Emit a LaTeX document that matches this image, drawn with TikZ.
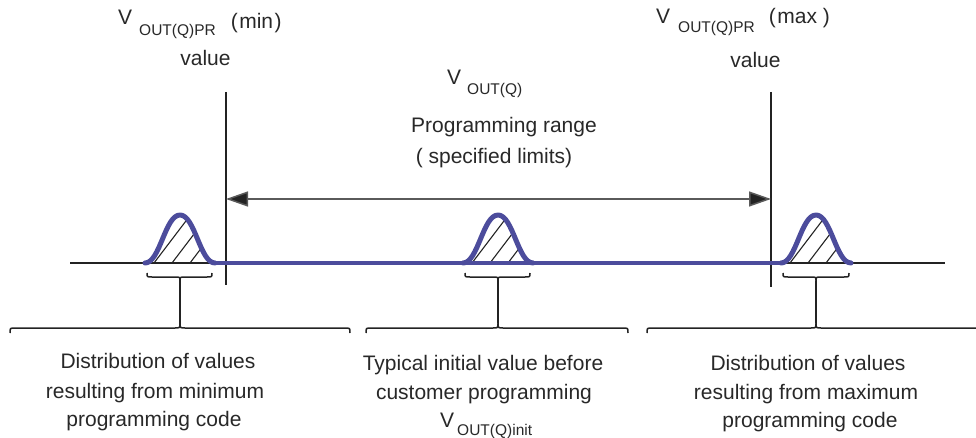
\documentclass[tikz,border=0pt]{standalone}
\usepackage{fontspec}
\setmainfont{Liberation Sans}
\usetikzlibrary{arrows.meta}
\definecolor{bluec}{RGB}{76,76,156}
\definecolor{txt}{RGB}{40,40,40}
\definecolor{lnc}{RGB}{35,35,35}
\definecolor{arrc}{RGB}{90,90,90}
\newcommand\mainsz{\fontsize{21}{24}\selectfont}
\newcommand\subsz{\fontsize{15.5}{18}\selectfont}
% small brace: x1, x2, tip x, line y (tip points down)
\newcommand\tipdownbrace[4]{%
  \draw[bracel] (#1,#4-4) .. controls (#1,#4) .. (#1+5,#4) -- (#3-5,#4)
    .. controls (#3,#4) .. (#3,#4+4) .. controls (#3,#4) .. (#3+5,#4)
    -- (#2-5,#4) .. controls (#2,#4) .. (#2,#4-4);}
% big brace: x1, x2, tip x, line y (tip points up)
\newcommand\tipupbrace[4]{%
  \draw[bracel] (#1,#4+5) .. controls (#1,#4) .. (#1+5,#4) -- (#3-5,#4)
    .. controls (#3,#4) .. (#3,#4-5) .. controls (#3,#4) .. (#3+5,#4)
    -- (#2-5,#4) .. controls (#2,#4) .. (#2,#4+5);}
\begin{document}
\begin{tikzpicture}[x=1pt,y=-1pt,
  lbl/.style={inner sep=0,anchor=base,text=txt,font=\mainsz},
  ruleline/.style={draw=lnc,line width=1.2pt},
  bracel/.style={draw=lnc,line width=1.5pt},
  hatchl/.style={draw=lnc,line width=1.1pt},
  bellline/.style={draw=bluec,line width=5pt,line cap=round,line join=round},
  blueline/.style={draw=bluec,line width=4pt},
  rangearrow/.style={draw=arrc,line width=1.5pt,
    {Triangle[length=22pt,width=15pt,fill=lnc]}-{Triangle[length=22pt,width=15pt,fill=lnc]}},
  bellc/.pic={
    \begin{scope}
      \clip (-35,0) .. controls (-20,0) and (-15,-48) .. (0,-48)
        .. controls (15,-48) and (20,0) .. (35,0) -- cycle;
      \foreach \k in {-26,-8,10} \draw[hatchl] (\k,0) -- ++(38,-50);
    \end{scope}
    \draw[bellline] (-35,0) .. controls (-20,0) and (-15,-48) .. (0,-48)
      .. controls (15,-48) and (20,0) .. (35,0);
  }]
\useasboundingbox (0,0) rectangle (976,438);

% coordinates
\coordinate (base l) at (70,263);
\coordinate (base r) at (945,263);
\coordinate (blue l) at (215,263);
\coordinate (blue r) at (781,263);
\coordinate (vlt) at (226,92);
\coordinate (vlb) at (226,285);
\coordinate (vrt) at (771,92);
\coordinate (vrb) at (771,287);
\coordinate (arl) at (226,199);
\coordinate (arr) at (771,199);

% baseline and limits
\draw[ruleline] (base l) -- (base r);
\draw[ruleline] (vlt) -- (vlb);
\draw[ruleline] (vrt) -- (vrb);
\draw[rangearrow] (arl) -- (arr);

% bells
\pic at (180,263) {bellc};
\pic at (498,263) {bellc};
\pic at (816,263) {bellc};
\draw[blueline] (blue l) -- (blue r);

% small braces
\tipdownbrace{147}{212}{180}{277}
\tipdownbrace{465}{530}{498}{277}
\tipdownbrace{783}{849}{816}{277}

% big braces
\tipupbrace{10}{350}{180}{328}
\tipupbrace{366}{628}{498}{328}
\tipupbrace{647}{990}{816}{328}

% connectors between braces
\coordinate (s1) at (180,281); \coordinate (b1) at (180,323);
\coordinate (s2) at (498,281); \coordinate (b2) at (498,323);
\coordinate (s3) at (816,281); \coordinate (b3) at (816,323);
\draw[ruleline] (s1) -- (b1);
\draw[ruleline] (s2) -- (b2);
\draw[ruleline] (s3) -- (b3);

% top labels
\node[lbl,anchor=base west] (minlbl) at (118,25)
  {V\hspace{7pt}\raisebox{-11pt}{\subsz OUT(Q)PR}\hspace{15pt}\raisebox{-4pt}{(\kern1.5pt min\kern1.5pt)}};
\node[lbl] (minval) at (205.5,66) {value};
\node[lbl,anchor=base west] (maxlbl) at (656,24)
  {V\hspace{8pt}\raisebox{-9pt}{\subsz OUT(Q)PR}\hspace{14pt}(\kern1.5pt max\ )};
\node[lbl] (maxval) at (755.5,68) {value};
\node[lbl,anchor=base west] (vq) at (447,85)
  {V\hspace{6pt}\raisebox{-10pt}{\subsz OUT(Q)}};
\node[lbl] (prange) at (504,133) {Programming range};
\node[lbl] (plimits) at (494,164) {( specified limits)};

% bottom left
\node[lbl] (l1) at (158,368) {Distribution of values};
\node[lbl] (l2) at (155,398) {resulting from minimum};
\node[lbl] (l3) at (154,426) {programming code};
% bottom middle
\node[lbl] (m1) at (483,370) {Typical initial value before};
\node[lbl] (m2) at (484,399) {customer programming};
\node[lbl,anchor=base west] (m3) at (440,427)
  {V\hspace{3pt}\raisebox{-8pt}{\subsz OUT(Q)init}};
% bottom right
\node[lbl] (r1) at (808,370) {Distribution of values};
\node[lbl] (r2) at (806,399) {resulting from maximum};
\node[lbl] (r3) at (810,427) {programming code};
\end{tikzpicture}
\end{document}
